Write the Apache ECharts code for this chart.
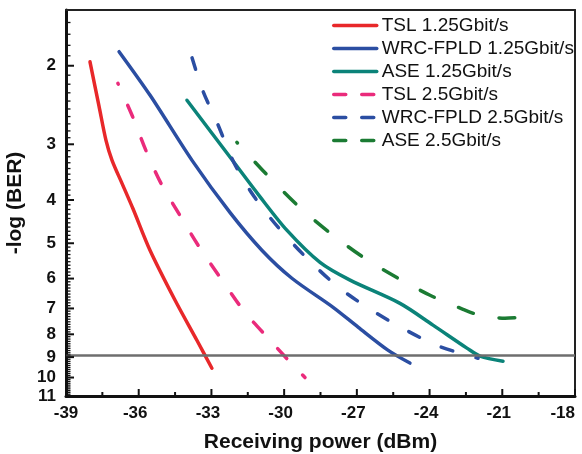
<!DOCTYPE html>
<html>
<head>
<meta charset="utf-8">
<style>
  html, body { margin: 0; padding: 0; background: #ffffff; }
  #chart { width: 582px; height: 454px; }
</style>
<script src="https://cdn.jsdelivr.net/npm/echarts@6/dist/echarts.min.js"></script>
</head>
<body>
<div id="chart"></div>
<script>
// Receiving power (dBm) vs -log(BER) for three seed sources at two bit rates.
const seriesNames = [
  'TSL 1.25Gbit/s',
  'WRC-FPLD 1.25Gbit/s',
  'ASE 1.25Gbit/s',
  'TSL 2.5Gbit/s',
  'WRC-FPLD 2.5Gbit/s',
  'ASE 2.5Gbit/s'
];

// [power dBm, -log(BER)]
const tsl125 = [
  [-38.01, 1.96], [-37.64, 2.46], [-37.35, 2.94], [-37.10, 3.26], [-36.69, 3.67],
  [-36.24, 4.18], [-35.53, 5.19], [-34.50, 6.71], [-33.60, 8.25], [-32.98, 9.53]
];
const wrc125 = [
  [-36.81, 1.86], [-35.53, 2.33], [-33.80, 3.26], [-32.23, 4.27], [-30.91, 5.19],
  [-29.68, 5.99], [-27.98, 6.96], [-26.95, 7.71], [-25.72, 8.68], [-24.81, 9.28]
];
const ase125 = [
  [-34.01, 2.39], [-32.15, 3.25], [-31.00, 3.93], [-29.88, 4.68], [-28.52, 5.52],
  [-27.28, 6.05], [-25.22, 6.82], [-23.86, 7.63], [-22.46, 8.59], [-21.92, 8.95],
  [-20.97, 9.19]
];
const tsl25 = [
  [-36.86, 2.19], [-36.24, 2.61], [-35.70, 3.10], [-35.08, 3.67], [-34.30, 4.33],
  [-33.47, 5.13], [-32.56, 6.05], [-31.62, 7.14], [-30.58, 8.25], [-29.76, 9.23],
  [-29.14, 10.0]
];
const wrc25 = [
  [-33.80, 1.92], [-33.35, 2.28], [-32.77, 2.68], [-32.07, 3.30], [-31.24, 3.93],
  [-30.21, 4.63], [-28.93, 5.49], [-27.70, 6.31], [-26.25, 7.14], [-24.97, 7.83],
  [-23.61, 8.51], [-22.00, 9.05]
];
const ase25 = [
  [-31.95, 2.97], [-30.91, 3.42], [-29.35, 4.16], [-27.98, 4.80], [-26.66, 5.41],
  [-25.30, 5.99], [-23.98, 6.54], [-22.62, 7.03], [-21.92, 7.25], [-20.89, 7.36],
  [-19.94, 7.32]
];

// BER = 1e-9 reference level
const thresholdLevel = 9;

// axis ranges and tick labels
const xMin = -39, xMax = -18, xStep = 3;
const yMin = 1.5, yMax = 11;
const yTickLabels = [2, 3, 4, 5, 6, 7, 8, 9, 10, 11];

const colors = ['#e8282a', '#2b4ea2', '#0b8379', '#ea2b7b', '#2b4ea2', '#1b7b33'];

// the -log(BER) axis is logarithmic: plot log10 of the value on a linear axis
const lg = v => Math.log10(v);
const toPlot = arr => arr.map(p => [p[0], lg(p[1])]);

const FONT = '"Liberation Sans", Arial, Helvetica, sans-serif';
const INK = '#111111';

// tick positions (major / minor) for both axes
const yMajor = yTickLabels.map(lg);
const yMinor = [];
for (let k = Math.round(yMin * 10) + 1; k < yMax * 10; k++) {
  if (k % 10 !== 0) yMinor.push(lg(k / 10));
}
const xMajor = [];
const xMinor = [];
for (let v = xMin; v <= xMax; v += xStep) {
  xMajor.push(v);
  if (v + xStep / 2 < xMax) xMinor.push(v + xStep / 2);
}

function lineSeries(name, data, color, dash, offset) {
  return {
    name: name,
    type: 'line',
    data: toPlot(data),
    smooth: 0.3,
    symbol: 'none',
    showSymbol: false,
    color: color,
    z: 3,
    lineStyle: {
      color: color,
      width: 3.5,
      type: dash || 'solid',
      dashOffset: offset || 0,
      cap: 'round',
      join: 'round'
    }
  };
}

// inward tick marks drawn through the axis scales
function tickSeries(values, vertical, len, width) {
  return {
    type: 'custom',
    silent: true,
    z: 5,
    clip: false,
    encode: { x: 0, y: 1 },
    data: values.map(v => vertical ? [v, lg(yMax)] : [xMin, v]),
    renderItem: (params, api) => {
      const p = api.coord([api.value(0), api.value(1)]);
      return {
        type: 'line',
        shape: vertical
          ? { x1: p[0], y1: p[1], x2: p[0], y2: p[1] - len }
          : { x1: p[0], y1: p[1], x2: p[0] + len, y2: p[1] },
        style: { stroke: INK, lineWidth: width }
      };
    }
  };
}

const series = [
  lineSeries(seriesNames[0], tsl125, colors[0]),
  lineSeries(seriesNames[1], wrc125, colors[1]),
  lineSeries(seriesNames[2], ase125, colors[2]),
  lineSeries(seriesNames[3], tsl25, colors[3], [13, 23], 12),
  lineSeries(seriesNames[4], wrc25, colors[4], [12, 24], 0),
  lineSeries(seriesNames[5], ase25, colors[5], [16, 26], 15),
  tickSeries(xMajor, true, 7, 2),
  tickSeries(xMinor, true, 4, 2),
  tickSeries(yMajor, false, 8, 2),
  tickSeries(yMinor, false, 4.5, 1.3)
];

series[0].markLine = {
  silent: true,
  symbol: 'none',
  label: { show: false },
  lineStyle: { color: '#6e6e6e', width: 2.5, type: 'solid' },
  data: [{ yAxis: lg(thresholdLevel) }]
};

const labelFont = { fontFamily: FONT, fontSize: 17, fontWeight: 'bold', color: INK };

const chart = echarts.init(document.getElementById('chart'), null, { renderer: 'canvas' });

chart.setOption({
  animation: false,
  backgroundColor: '#ffffff',
  grid: {
    left: 66, right: 7, top: 10, bottom: 58,
    containLabel: false,
    outerBoundsMode: 'none'
  },
  legend: {
    orient: 'vertical',
    left: 332,
    top: 16,
    padding: 0,
    itemWidth: 43,
    itemHeight: 12,
    itemGap: 4,
    textStyle: { fontFamily: FONT, fontSize: 19, color: INK },
    data: seriesNames.map((n, i) => ({
      name: n,
      itemStyle: { opacity: 0 },
      lineStyle: i >= 3
        ? { type: [12, 16], dashOffset: 0, width: 3.5, cap: 'round' }
        : { type: 'solid', width: 3.5, cap: 'round' }
    }))
  },
  xAxis: [
    {
      type: 'value',
      min: xMin,
      max: xMax,
      interval: xStep,
      position: 'bottom',
      name: 'Receiving power (dBm)',
      nameLocation: 'middle',
      nameGap: 36,
      nameTextStyle: { fontFamily: FONT, fontSize: 21, fontWeight: 'bold', color: INK },
      axisLine: { show: true, onZero: false, lineStyle: { color: INK, width: 3 } },
      axisTick: { show: false },
      minorTick: { show: false },
      axisLabel: Object.assign({
        margin: 9,
        alignMaxLabel: 'right',
        formatter: v => (v === xMax ? '{e|' + v + '}' : v === xMin ? '{s|' + v + '}' : '{n|' + v + '}'),
        rich: {
          n: Object.assign({ padding: [0, 7, 0, 0] }, labelFont),
          s: Object.assign({}, labelFont),
          e: Object.assign({ padding: [0, 0, 0, 0] }, labelFont)
        }
      }, labelFont),
      splitLine: { show: false }
    },
    {
      type: 'value',
      min: xMin,
      max: xMax,
      position: 'top',
      axisLine: { show: true, onZero: false, lineStyle: { color: '#222222', width: 2 } },
      axisTick: { show: false },
      axisLabel: { show: false },
      splitLine: { show: false }
    }
  ],
  yAxis: [
    {
      type: 'value',
      min: lg(yMin),
      max: lg(yMax),
      inverse: true,
      position: 'left',
      name: '-log (BER)',
      nameLocation: 'middle',
      nameGap: 37,
      nameRotate: 90,
      nameTextStyle: { fontFamily: FONT, fontSize: 21, fontWeight: 'bold', color: INK },
      axisLine: { show: true, onZero: false, lineStyle: { color: INK, width: 3 } },
      axisTick: { show: false },
      axisLabel: Object.assign({
        customValues: yMajor,
        formatter: v => String(Math.round(Math.pow(10, v))),
        margin: 10
      }, labelFont),
      splitLine: { show: false }
    },
    {
      type: 'value',
      min: lg(yMin),
      max: lg(yMax),
      inverse: true,
      position: 'right',
      axisLine: { show: true, onZero: false, lineStyle: { color: '#222222', width: 2 } },
      axisTick: { show: false },
      axisLabel: { show: false },
      splitLine: { show: false }
    }
  ],
  series: series
});
</script>
</body>
</html>
